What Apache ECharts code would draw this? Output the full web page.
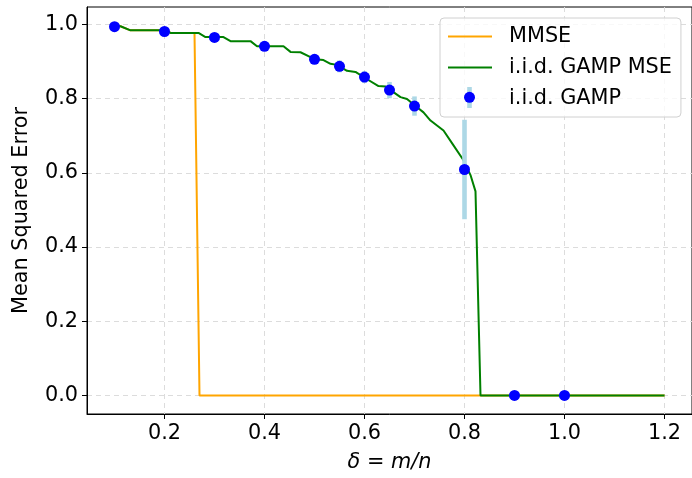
<!DOCTYPE html>
<html>
<head>
<meta charset="utf-8">
<script src="https://cdn.jsdelivr.net/npm/echarts@6/dist/echarts.min.js"></script>
<style>html,body{margin:0;padding:0;background:#fff}#c{width:692px;height:478px}</style>
</head>
<body>
<div id="c"></div>
<script>
// ---- data ----
const xTicks = [0.2, 0.4, 0.6, 0.8, 1.0, 1.2];
const yTicks = [0.0, 0.2, 0.4, 0.6, 0.8, 1.0];

const mmse = [
  [0.10, 0.995], [0.112, 0.995], [0.132, 0.984], [0.205, 0.984], [0.212, 0.977],
  [0.26, 0.977], [0.27, 0.0], [1.20, 0.0]
];

const gampMse = [
  [0.10, 0.995], [0.112, 0.995], [0.132, 0.984], [0.205, 0.984], [0.212, 0.977],
  [0.268, 0.977], [0.282, 0.966], [0.318, 0.966], [0.332, 0.955], [0.372, 0.955],
  [0.385, 0.941], [0.438, 0.941], [0.452, 0.926], [0.472, 0.925], [0.492, 0.912],
  [0.502, 0.906], [0.518, 0.904], [0.532, 0.894], [0.545, 0.891], [0.565, 0.875],
  [0.582, 0.872], [0.602, 0.855], [0.628, 0.834], [0.642, 0.833], [0.652, 0.823],
  [0.672, 0.804], [0.685, 0.799], [0.702, 0.780], [0.718, 0.763], [0.732, 0.741],
  [0.758, 0.714], [0.778, 0.674], [0.798, 0.634], [0.812, 0.594], [0.822, 0.550],
  [0.832, 0.0], [1.20, 0.0]
];

const gampDelta = [0.1, 0.2, 0.3, 0.4, 0.5, 0.55, 0.6, 0.65, 0.7, 0.8, 0.9, 1.0];
const gampMean  = [0.994, 0.981, 0.965, 0.941, 0.906, 0.887, 0.858, 0.823, 0.780, 0.609, 0.0, 0.0];
const gampErr   = [0.003, 0.004, 0.005, 0.007, 0.011, 0.016, 0.016, 0.022, 0.026, 0.134, 0.0, 0.0];

// ---- chart ----
const FONT = 'DejaVu Sans';
const FS = 20.8;
const chart = echarts.init(document.getElementById('c'), null, {renderer: 'canvas'});

const scatterData = gampDelta.map((d, i) => [d, gampMean[i]]);
const errData = gampDelta.map((d, i) => [d, gampMean[i] - gampErr[i], gampMean[i] + gampErr[i]]);

const gridLine = {show: true, lineStyle: {color: '#dcdcdc', type: [5, 4], width: 1}};

chart.setOption({
  animation: false,
  backgroundColor: '#fff',
  grid: {left: 87, right: 0, top: 7, bottom: 60, show: true, borderColor: '#000', borderWidth: 1, backgroundColor: 'transparent'},
  xAxis: {
    type: 'value', min: 0.045, max: 1.255,
    name: '{i|δ}{r| = }{i|m/n}', nameLocation: 'middle', nameGap: 38,
    nameTextStyle: {fontFamily: FONT, fontSize: FS, color: '#000',
      rich: {i: {fontFamily: FONT, fontSize: FS, fontStyle: 'italic', color: '#000'},
             r: {fontFamily: FONT, fontSize: FS, color: '#000'}}},
    axisLine: {show: true, onZero: false, lineStyle: {color: '#000', width: 1}},
    axisTick: {show: true, inside: false, length: 5, lineStyle: {color: '#000', width: 1}, customValues: xTicks},
    axisLabel: {margin: 9, fontFamily: FONT, fontSize: FS, color: '#000', customValues: xTicks,
      formatter: v => v.toFixed(1)},
    splitLine: gridLine
  },
  yAxis: {
    type: 'value', min: -0.05, max: 1.047,
    name: 'Mean Squared Error', nameLocation: 'middle', nameGap: 55,
    nameTextStyle: {fontFamily: FONT, fontSize: FS, color: '#000'},
    axisLine: {show: true, onZero: false, lineStyle: {color: '#000', width: 1}},
    axisTick: {show: true, inside: false, length: 5, lineStyle: {color: '#000', width: 1}, customValues: yTicks},
    axisLabel: {margin: 9, fontFamily: FONT, fontSize: FS, color: '#000', customValues: yTicks,
      formatter: v => v.toFixed(1)},
    splitLine: gridLine
  },
  legend: {
    orient: 'vertical', left: 440, top: 18,
    padding: [8, 9, 8, 7], itemWidth: 44, itemHeight: 14, itemGap: 10,
    backgroundColor: 'rgba(255,255,255,0.8)', borderColor: '#d0d0d0', borderWidth: 1, borderRadius: 4,
    textStyle: {fontFamily: FONT, fontSize: FS, color: '#000', padding: [0, 0, 0, 12]},
    data: [
      {name: 'MMSE', itemStyle: {opacity: 0}},
      {name: 'i.i.d. GAMP MSE', itemStyle: {opacity: 0}},
      {name: 'i.i.d. GAMP', icon: 'circle', itemStyle: {opacity: 0}}
    ],
    z: 20
  },
  graphic: [
    {type: 'rect', z: 100, shape: {x: 467.2, y: 87, width: 4.6, height: 21}, style: {fill: '#add8e6'}},
    {type: 'circle', z: 101, shape: {cx: 469.5, cy: 97.3, r: 5.5}, style: {fill: '#0000ff'}}
  ],
  series: [
    {name: 'MMSE', type: 'line', data: mmse, symbol: 'none', showSymbol: false,
      lineStyle: {color: '#ffa500', width: 2}, itemStyle: {color: '#ffa500'}, z: 2},
    {name: 'i.i.d. GAMP MSE', type: 'line', data: gampMse, symbol: 'none', showSymbol: false,
      lineStyle: {color: '#008000', width: 2}, itemStyle: {color: '#008000'}, z: 3},
    {name: 'i.i.d. GAMP', type: 'custom', data: errData, z: 4,
      renderItem: (params, api) => {
        const top = api.coord([api.value(0), api.value(2)]);
        const bot = api.coord([api.value(0), api.value(1)]);
        return {type: 'rect', shape: {x: top[0] - 2.3, y: top[1], width: 4.6, height: Math.max(bot[1] - top[1], 0)},
          style: {fill: '#add8e6'}};
      },
      itemStyle: {color: '#0000ff'}, legendHoverLink: false
    },
    {name: 'i.i.d. GAMP', type: 'scatter', data: scatterData, symbol: 'circle', symbolSize: 11,
      itemStyle: {color: '#0000ff', opacity: 1}, z: 5}
  ]
});
</script>
</body>
</html>
